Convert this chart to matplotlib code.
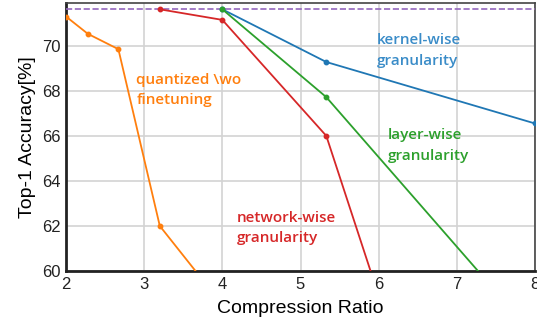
import matplotlib
matplotlib.use('Agg')
import matplotlib.pyplot as plt

# data
orange_x = [2.0, 2.28, 2.67, 3.2, 4.0]
orange_y = [71.3, 70.53, 69.85, 62.0, 58.5]
red_x = [3.2, 4.0, 5.33, 6.0]
red_y = [71.62, 71.15, 66.0, 58.9]
green_x = [4.0, 5.33, 8.0]
green_y = [71.62, 67.72, 57.1]
blue_x = [4.0, 5.33, 8.0]
blue_y = [71.62, 69.28, 66.55]
baseline = 71.62

fig = plt.figure(figsize=(5.37, 3.26), dpi=100)
ax = fig.add_axes([0.1229, 0.1687, 0.8734, 0.8221])

ax.axhline(baseline, color='#9467bd', ls='--', lw=1.2, zorder=3)
ax.plot(orange_x, orange_y, color='#ff7f0e', marker='o', ms=3.2, lw=1.3, zorder=4)
ax.plot(red_x, red_y, color='#d62728', marker='o', ms=3.2, lw=1.3, zorder=4)
ax.plot(blue_x, blue_y, color='#1f77b4', marker='o', ms=3.2, lw=1.3, zorder=4)
ax.plot(green_x, green_y, color='#2ca02c', marker='o', ms=3.2, lw=1.3, zorder=5)

font = ['Open Sans', 'DejaVu Sans']
kw = dict(fontsize=11, fontweight='semibold', family=font, va='center', linespacing=1.6)
ax.text(2.9, 68.04, 'quantized \\wo\nfinetuning', color='#ff7f0e', **kw)
ax.text(5.98, 69.78, 'kernel-wise\ngranularity', color='#3a8cc8', **kw)
ax.text(6.12, 65.56, 'layer-wise\ngranularity', color='#2ca02c', **kw)
ax.text(4.18, 61.91, 'network-wise\ngranularity', color='#d62728', **kw)

ax.set_xlim(2, 8)
ax.set_ylim(60, 71.9)
ax.set_xticks([2, 3, 4, 5, 6, 7, 8])
ax.set_yticks([60, 62, 64, 66, 68, 70])
ax.grid(True, color='#d3d3d3', lw=1.2, zorder=0)
ax.set_axisbelow(True)
for s in ['left', 'bottom']:
    ax.spines[s].set_color('#222222')
    ax.spines[s].set_linewidth(2)
for s in ['top', 'right']:
    ax.spines[s].set_color('#444444')
    ax.spines[s].set_linewidth(1.2)
ax.tick_params(axis='both', length=0, labelsize=12, colors='#222222', pad=4)
for lab in ax.get_xticklabels() + ax.get_yticklabels():
    lab.set_family('Liberation Sans')
ax.set_xlabel('Compression Ratio', fontsize=14, family='Liberation Sans', labelpad=6)
ax.set_ylabel('Top-1 Accuracy[%]', fontsize=14, family='Liberation Sans', labelpad=4)

fig.savefig('out.png', dpi=100)
